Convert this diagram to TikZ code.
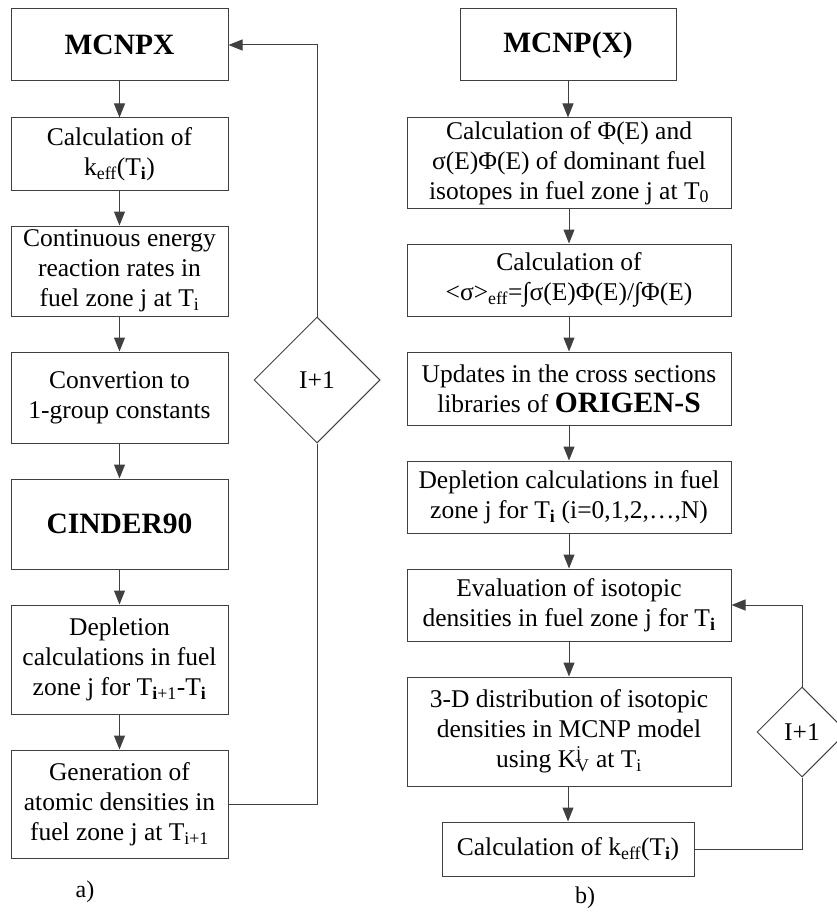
\documentclass[tikz,border=0pt]{standalone}
\usepackage{fontspec}
\setmainfont{Liberation Serif}
\usetikzlibrary{shapes.geometric,arrows.meta}
\newcommand{\sbs}[1]{\textsubscript{#1}}
\begin{document}
\begin{tikzpicture}[x=1pt,y=-1pt,
 box/.style={draw=black!75,line width=1pt,rectangle,inner sep=0pt,align=center,font=\fontsize{25.5}{30}\selectfont},
 bbox/.style={box,font=\fontsize{29.5}{34}\selectfont\bfseries},
 dia/.style={draw=black!75,line width=1pt,diamond,aspect=1,inner sep=0pt,font=\fontsize{25.5}{30}\selectfont},
 arr/.style={draw=black!75,line width=1pt,-{Triangle[length=14pt,width=11pt]}},
 ln/.style={draw=black!75,line width=1pt},
 lab/.style={inner sep=0pt,font=\fontsize{24}{28}\selectfont}]
\useasboundingbox (0,0) rectangle (837,915);
% left column
\node[bbox,minimum width=217pt,minimum height=72pt] (a1) at (119.5,45) {MCNPX};
\node[box,minimum width=217pt,minimum height=72pt] (a2) at (119.5,154) {Calculation of\\k\sbs{eff}(T\sbs{\textbf{i}})};
\node[box,minimum width=217pt,minimum height=90pt] (a3) at (119.5,271) {Continuous energy\\reaction rates in\\fuel zone j at T\sbs{i}};
\node[box,minimum width=217pt,minimum height=91pt] (a4) at (119.5,397.5) {Convertion to\\1-group constants};
\node[bbox,minimum width=217pt,minimum height=90pt] (a5) at (119.5,524) {CINDER90};
\node[box,minimum width=217pt,minimum height=109pt] (a6) at (119.5,659.5) {Depletion\\calculations in fuel\\zone j for T\sbs{\textbf{i}+1}-T\sbs{\textbf{i}}};
\node[box,minimum width=217pt,minimum height=108pt] (a7) at (119.5,804) {Generation of\\atomic densities in\\fuel zone j at T\sbs{i+1}};
\node[dia,minimum width=126pt,minimum height=126pt] (ad) at (317,380) {I+1};
\coordinate (ac1) at (317,804);
\coordinate (ac2) at (317,45);
\node[lab] (la) at (85,892) {a)};
\draw[arr] (a1) -- (a2);
\draw[arr] (a2) -- (a3);
\draw[arr] (a3) -- (a4);
\draw[arr] (a4) -- (a5);
\draw[arr] (a5) -- (a6);
\draw[arr] (a6) -- (a7);
\draw[ln] (a7.east) -- (ac1) -- (ad.south);
\draw[arr] (ad.north) -- (ac2) -- (a1.east);
% right column
\node[bbox,minimum width=216pt,minimum height=72pt] (b1) at (568,45) {MCNP(X)};
\node[box,minimum width=324pt,minimum height=90pt] (b2) at (569,163) {Calculation of Φ(E) and\\σ(E)Φ(E) of dominant fuel\\isotopes in fuel zone j at T\sbs{0}};
\node[box,minimum width=324pt,minimum height=72pt] (b3) at (569,280) {Calculation of\\\textless σ\textgreater\sbs{eff}=∫σ(E)Φ(E)/∫Φ(E)};
\node[box,minimum width=324pt,minimum height=73pt] (b4) at (569,388.5) {Updates in the cross sections\\libraries of {\fontsize{29.5}{30}\selectfont\bfseries ORIGEN-S}};
\node[box,minimum width=324pt,minimum height=72pt] (b5) at (569,497) {Depletion calculations in fuel\\zone j for T\sbs{\textbf{i}} (i=0,1,2,…,N)};
\node[box,minimum width=324pt,minimum height=72pt] (b6) at (569,605) {Evaluation of isotopic\\densities in fuel zone j for T\sbs{\textbf{i}}};
\node[box,minimum width=324pt,minimum height=109pt] (b7) at (569,731.5) {3-D distribution of isotopic\\densities in MCNP model\\using K\rlap{\textsuperscript{j}}\sbs{V} at T\sbs{i}};
\node[box,minimum width=252pt,minimum height=54pt] (b8) at (568,849) {Calculation of k\sbs{eff}(T\sbs{\textbf{i}})};
\node[dia,minimum width=90pt,minimum height=90pt] (bd) at (802,732) {I+1};
\coordinate (bc1) at (802,849);
\coordinate (bc2) at (802,605);
\node[lab] (lb) at (585,898) {b)};
\draw[arr] (b1) -- (b1|-b2.north);
\draw[arr] (b2) -- (b3);
\draw[arr] (b3) -- (b4);
\draw[arr] (b4) -- (b5);
\draw[arr] (b5) -- (b6);
\draw[arr] (b6) -- (b7);
\draw[arr] (b7.south -| b8) -- (b8);
\draw[ln] (b8.east) -- (bc1) -- (bd.south);
\draw[arr] (bd.north) -- (bc2) -- (b6.east);
\end{tikzpicture}
\end{document}
